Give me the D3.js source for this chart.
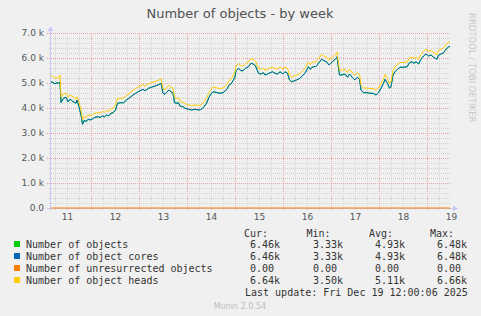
<!DOCTYPE html>
<html>
<head>
<meta charset="utf-8">
<script src="https://cdn.jsdelivr.net/npm/d3@7"></script>
<style>
body { margin: 0; background: #f0f0f0; }
svg text { font-family: "DejaVu Sans", sans-serif; }
svg .mono { font-family: "DejaVu Sans Mono", monospace; }
</style>
</head>
<body>
<script>
// hours since Dec 11 04:00 (sample times)
var hours = [0, 1, 2, 3, 4, 4.5, 5, 6.25, 7.5, 8.5, 9.5, 11, 12.5, 13, 13.75, 15, 15.75, 16.75, 17.5, 18.5,
  19.5, 20.75, 22, 23.75, 24.5, 25.75, 26.75, 27.75, 28.75, 30, 31, 32.25, 33.25, 34.5, 36.25, 37.75, 39.5, 41, 42.75, 44.5,
  46, 47, 48.75, 50.25, 52, 53.75, 55, 56, 57, 58, 59, 60, 61, 61.75, 63, 63.75, 64.5, 66, 67, 68.75,
  70.25, 72, 73.75, 75.25, 76.5, 77.75, 79, 80.25, 81, 82, 84.5, 86, 88, 89, 90.25, 91, 92, 92.5, 93.75, 95,
  96, 97.25, 98.75, 100, 101.25, 102.25, 103.75, 105, 106.25, 107, 108.25, 109.5, 110.75, 112, 113.25, 114.5, 115.25, 116, 117, 118.25,
  119.25, 120.25, 121.75, 122.75, 124.5, 126, 127, 128.75, 129.5, 131, 132.5, 133.75, 135.25, 136.5, 137.75, 139, 140.75, 142.5, 143, 144.25,
  145.5, 146.5, 147.5, 148.25, 149.25, 150, 151, 152, 153.25, 154.25, 155, 156.25, 158, 159.5, 161, 162.5, 163.75, 165, 166.25, 167,
  168.25, 169.25, 170, 171, 172, 173.25, 174.5, 176.5, 178, 179.25, 180.5, 181.5, 182.5, 183.75, 185, 186.25, 187.5, 188.75, 190, 191,
  192, 193, 193.75, 195, 196.25, 197, 198, 198.75, 199.5];

// values in thousands
var objects = [5.05, 5.02, 4.97, 5.00, 5.01, 5.02, 4.22, 4.39, 4.43, 4.25, 4.35, 4.26, 4.19, 4.32, 4.12, 3.72, 3.35, 3.52, 3.45, 3.55,
  3.52, 3.56, 3.63, 3.65, 3.62, 3.68, 3.65, 3.72, 3.68, 3.79, 3.81, 3.92, 4.19, 4.21, 4.21, 4.32, 4.42, 4.52, 4.61, 4.69,
  4.75, 4.69, 4.79, 4.83, 4.88, 4.93, 4.99, 4.59, 4.55, 4.65, 4.72, 4.65, 4.59, 4.21, 4.19, 4.21, 4.08, 4.05, 3.99, 3.95,
  3.92, 3.95, 3.92, 3.95, 4.05, 4.19, 4.43, 4.59, 4.65, 4.63, 4.59, 4.61, 4.75, 4.92, 4.99, 5.09, 5.25, 5.49, 5.59, 5.49,
  5.49, 5.59, 5.65, 5.79, 5.76, 5.68, 5.39, 5.36, 5.41, 5.32, 5.36, 5.41, 5.45, 5.39, 5.36, 5.45, 5.41, 5.36, 5.45, 5.39,
  5.12, 5.05, 5.09, 5.12, 5.19, 5.32, 5.39, 5.65, 5.55, 5.65, 5.66, 5.79, 5.95, 5.89, 5.85, 5.72, 5.85, 5.99, 6.05, 5.32,
  5.32, 5.36, 5.32, 5.23, 5.36, 5.29, 5.19, 5.12, 5.23, 5.15, 4.72, 4.61, 4.61, 4.59, 4.59, 4.52, 4.61, 4.79, 4.99, 5.15,
  4.99, 4.79, 4.85, 5.32, 5.45, 5.55, 5.63, 5.63, 5.65, 5.81, 5.85, 5.79, 5.85, 5.76, 5.95, 6.08, 6.16, 6.08, 6.12, 6.05,
  5.99, 5.95, 6.12, 6.16, 6.21, 6.29, 6.39, 6.45, 6.46];

var cores = [5.05, 5.02, 4.97, 5.00, 5.01, 5.02, 4.22, 4.39, 4.43, 4.25, 4.35, 4.26, 4.19, 4.32, 4.12, 3.72, 3.35, 3.52, 3.45, 3.55,
  3.52, 3.56, 3.63, 3.65, 3.62, 3.68, 3.65, 3.72, 3.68, 3.79, 3.81, 3.92, 4.19, 4.21, 4.21, 4.32, 4.42, 4.52, 4.61, 4.69,
  4.75, 4.69, 4.79, 4.83, 4.88, 4.93, 4.99, 4.59, 4.55, 4.65, 4.72, 4.65, 4.59, 4.21, 4.19, 4.21, 4.08, 4.05, 3.99, 3.95,
  3.92, 3.95, 3.92, 3.95, 4.05, 4.19, 4.43, 4.59, 4.65, 4.63, 4.59, 4.61, 4.75, 4.92, 4.99, 5.09, 5.25, 5.49, 5.59, 5.49,
  5.49, 5.59, 5.65, 5.79, 5.76, 5.68, 5.39, 5.36, 5.41, 5.32, 5.36, 5.41, 5.45, 5.39, 5.36, 5.45, 5.41, 5.36, 5.45, 5.39,
  5.12, 5.05, 5.09, 5.12, 5.19, 5.32, 5.39, 5.65, 5.55, 5.65, 5.66, 5.79, 5.95, 5.89, 5.85, 5.72, 5.85, 5.99, 6.05, 5.32,
  5.32, 5.36, 5.32, 5.23, 5.36, 5.29, 5.19, 5.12, 5.23, 5.15, 4.72, 4.61, 4.61, 4.59, 4.59, 4.52, 4.61, 4.79, 4.99, 5.15,
  4.99, 4.79, 4.85, 5.32, 5.45, 5.55, 5.63, 5.63, 5.65, 5.81, 5.85, 5.79, 5.85, 5.76, 5.95, 6.08, 6.16, 6.08, 6.12, 6.05,
  5.99, 5.95, 6.12, 6.16, 6.21, 6.29, 6.39, 6.45, 6.46];

var heads = [5.28, 5.27, 5.19, 5.20, 5.24, 5.32, 4.43, 4.57, 4.60, 4.44, 4.52, 4.45, 4.36, 4.45, 4.30, 3.92, 3.52, 3.68, 3.62, 3.72,
  3.70, 3.74, 3.80, 3.83, 3.80, 3.86, 3.83, 3.90, 3.86, 3.97, 3.99, 4.12, 4.38, 4.39, 4.40, 4.50, 4.61, 4.70, 4.80, 4.88,
  4.93, 4.87, 4.97, 5.01, 5.06, 5.11, 5.18, 4.77, 4.73, 4.83, 4.90, 4.83, 4.78, 4.42, 4.38, 4.40, 4.26, 4.23, 4.17, 4.13,
  4.10, 4.12, 4.10, 4.13, 4.24, 4.38, 4.62, 4.78, 4.84, 4.82, 4.78, 4.80, 4.94, 5.11, 5.18, 5.28, 5.45, 5.68, 5.78, 5.68,
  5.68, 5.78, 5.84, 5.98, 5.95, 5.87, 5.58, 5.55, 5.60, 5.51, 5.55, 5.60, 5.64, 5.58, 5.55, 5.64, 5.60, 5.55, 5.64, 5.58,
  5.31, 5.24, 5.28, 5.31, 5.38, 5.51, 5.58, 5.84, 5.74, 5.84, 5.85, 5.98, 6.14, 6.08, 6.04, 5.91, 6.04, 6.18, 6.24, 5.51,
  5.51, 5.55, 5.51, 5.42, 5.55, 5.48, 5.38, 5.31, 5.42, 5.34, 4.91, 4.80, 4.80, 4.78, 4.78, 4.71, 4.80, 4.98, 5.18, 5.34,
  5.18, 4.98, 5.04, 5.51, 5.64, 5.74, 5.82, 5.82, 5.84, 6.00, 6.04, 5.98, 6.04, 5.95, 6.14, 6.27, 6.35, 6.27, 6.31, 6.24,
  6.18, 6.14, 6.31, 6.35, 6.40, 6.48, 6.58, 6.64, 6.64];

var unresHours = [0, 199.5];
var unres = [0, 0];

var yTicks = [0, 1, 2, 3, 4, 5, 6, 7];
var dayLabels = ['11', '12', '13', '14', '15', '16', '17', '18', '19'];

var legendNames = ['Number of objects', 'Number of object cores', 'Number of unresurrected objects', 'Number of object heads'];
var statHeads = ['Cur:', 'Min:', 'Avg:', 'Max:'];
var statCur = ['6.46k', '6.46k', '0.00', '6.64k'];
var statMin = ['3.33k', '3.33k', '0.00', '3.50k'];
var statAvg = ['4.93k', '4.93k', '0.00', '5.11k'];
var statMax = ['6.48k', '6.48k', '0.00', '6.66k'];

var colors = ['#00cc00', '#0066b3', '#ff8000', '#ffcc00'];

var width = 481, height = 316;
var start = new Date(2025, 11, 11, 4, 0);
var end = new Date(2025, 11, 19, 12, 0);

var svg = d3.select('body').append('svg')
    .attr('width', width)
    .attr('height', height);

svg.append('rect').attr('width', width).attr('height', height).attr('fill', '#f0f0f0');

var x = d3.scaleTime().domain([start, end]).range([51, 451]);
var y = d3.scaleLinear().domain([0, 7]).range([208, 33]);

function toDate(h) { return new Date(start.getTime() + h * 3600000); }

// title
svg.append('text')
    .attr('x', 240).attr('y', 18)
    .attr('text-anchor', 'middle')
    .attr('font-size', 13)
    .attr('fill', '#505050')
    .text('Number of objects - by week');

// side credit
svg.append('text')
    .attr('transform', 'translate(469,13) rotate(90)')
    .attr('font-size', 8.5)
    .attr('fill', '#cacaca')
    .text('RRDTOOL / TOBI OETIKER');

// grid
var grid = svg.append('g');
var sixHours = d3.timeHour.every(6).range(start, end);
sixHours.forEach(function(t) {
    var major = t.getHours() === 0;
    grid.append('line')
        .attr('x1', Math.round(x(t)) + 0.5).attr('x2', Math.round(x(t)) + 0.5)
        .attr('y1', 33).attr('y2', major ? 211 : 210)
        .attr('stroke', major ? '#e8a4a4' : '#d2d2d2')
        .attr('stroke-dasharray', '1,1');
});
d3.range(1, 36).forEach(function(i) {
    var v = i / 5;
    var major = i % 5 === 0;
    grid.append('line')
        .attr('x1', major ? 47 : 49).attr('x2', 451)
        .attr('y1', Math.round(y(v)) + 0.5).attr('y2', Math.round(y(v)) + 0.5)
        .attr('stroke', major ? '#e8a4a4' : '#d2d2d2')
        .attr('stroke-dasharray', '1,1');
});

// axis lines with arrows
var axisCol = '#c8c8f4';
svg.append('line').attr('x1', 50.5).attr('x2', 50.5).attr('y1', 210).attr('y2', 30)
    .attr('stroke', axisCol);
svg.append('path').attr('d', 'M47.5,31 L50.5,26 L53.5,31 Z').attr('fill', axisCol);
svg.append('line').attr('x1', 47).attr('x2', 454).attr('y1', 208.5).attr('y2', 208.5)
    .attr('stroke', axisCol);
svg.append('path').attr('d', 'M453,205.5 L458,208.5 L453,211.5 Z').attr('fill', axisCol);

// axis labels
var yAxis = svg.append('g')
    .attr('transform', 'translate(46,0)')
    .call(d3.axisLeft(y).tickValues(yTicks).tickSize(0).tickPadding(2)
        .tickFormat(function(d) { return d === 0 ? '0.0' : d.toFixed(1) + ' k'; }));
yAxis.select('.domain').remove();
yAxis.selectAll('text').attr('font-size', 9).attr('fill', '#555').attr('font-family', '"DejaVu Sans", sans-serif');

var noons = dayLabels.map(function(d, i) { return new Date(2025, 11, 11 + i, 12, 0); });
var xAxis = svg.append('g')
    .attr('transform', 'translate(0,208)')
    .call(d3.axisBottom(x).tickValues(noons).tickSize(0).tickPadding(6)
        .tickFormat(function(d, i) { return dayLabels[i]; }));
xAxis.select('.domain').remove();
xAxis.selectAll('text').attr('font-size', 9).attr('fill', '#555').attr('font-family', '"DejaVu Sans", sans-serif');

// series
var line = d3.line()
    .x(function(d) { return x(toDate(d[0])); })
    .y(function(d) { return y(d[1]); });

function zipSeries(hs, vs) { return hs.map(function(h, i) { return [h, vs[i]]; }); }

var series = [zipSeries(hours, objects), zipSeries(hours, cores), zipSeries(unresHours, unres), zipSeries(hours, heads)];
series.forEach(function(s, i) {
    svg.append('path')
        .datum(s)
        .attr('fill', 'none')
        .attr('stroke', colors[i])
        .attr('stroke-width', 1)
        .attr('d', line);
});

// legend
var legend = svg.append('g').attr('class', 'legend');
var colX = [244, 306.5, 369, 430];
var valX = [250, 313, 375, 437];
statHeads.forEach(function(h, j) {
    legend.append('text').attr('class', 'mono')
        .attr('x', colX[j]).attr('y', 237)
        .attr('font-size', 10).attr('fill', '#333')
        .text(h);
});
var stats = [statCur, statMin, statAvg, statMax];
legendNames.forEach(function(name, i) {
    var by = 248 + i * 12;
    legend.append('rect')
        .attr('x', 14).attr('y', by - 7)
        .attr('width', 6).attr('height', 6)
        .attr('fill', colors[i]);
    legend.append('text').attr('class', 'mono')
        .attr('x', 26).attr('y', by)
        .attr('font-size', 10).attr('fill', '#333')
        .text(name);
    stats.forEach(function(col, j) {
        legend.append('text').attr('class', 'mono')
            .attr('x', valX[j]).attr('y', by)
            .attr('font-size', 10).attr('fill', '#333')
            .text(col[i]);
    });
});
legend.append('text').attr('class', 'mono')
    .attr('x', 245).attr('y', 296)
    .attr('font-size', 10).attr('fill', '#333')
    .text('Last update: Fri Dec 19 12:00:06 2025');

svg.append('text')
    .attr('x', 240).attr('y', 309)
    .attr('text-anchor', 'middle')
    .attr('font-size', 8)
    .attr('fill', '#bdbdbd')
    .text('Munin 2.0.54');
</script>
</body>
</html>
